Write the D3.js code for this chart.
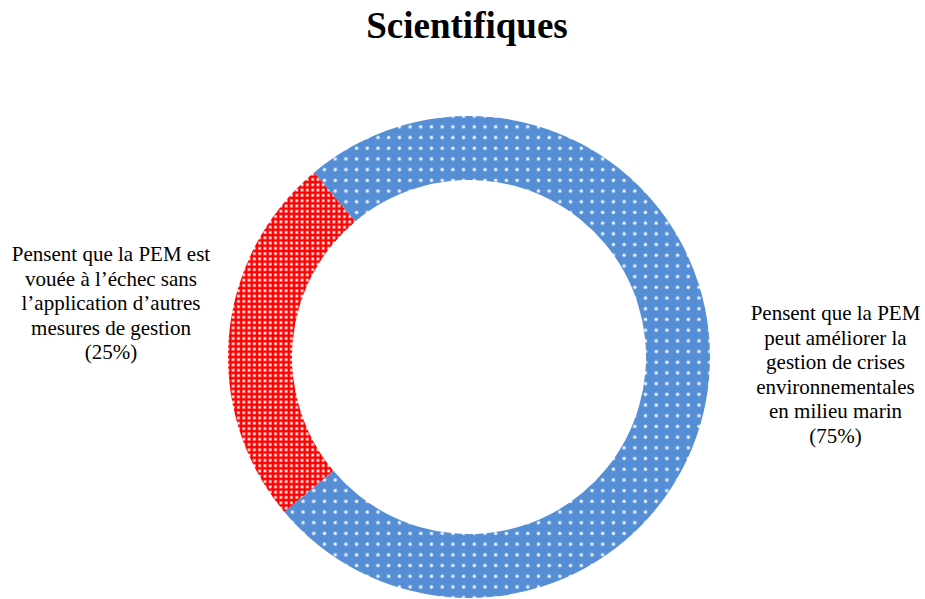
<!DOCTYPE html>
<html>
<head>
<meta charset="utf-8">
<script src="https://cdn.jsdelivr.net/npm/d3@7"></script>
<style>
  html, body { margin: 0; padding: 0; background: #ffffff; }
  svg { display: block; }
</style>
</head>
<body>
<svg id="chart" width="925" height="599"></svg>
<script>
// Survey shares (percent)
const categories = ["ameliorer", "echec"];
const values = [75, 25];
const labelLines = [
  ["Pensent que la PEM", "peut améliorer la", "gestion de crises", "environnementales", "en milieu marin", "(75%)"],
  ["Pensent que la PEM est", "vouée à l’échec sans", "l’application d’autres", "mesures de gestion", "(25%)"]
];
const colors = ["#558ED5", "#FF0000"];
const title = "Scientifiques";

const svg = d3.select("#chart");
const cx = 469, cy = 357, outerR = 241, innerR = 177;

// Dotted fill patterns
const defs = svg.append("defs");
const blueP = defs.append("pattern")
  .attr("id", "pat-0").attr("patternUnits", "userSpaceOnUse")
  .attr("width", 10.7).attr("height", 10.7);
blueP.append("rect").attr("width", 10.7).attr("height", 10.7).attr("fill", colors[0]);
blueP.append("circle").attr("cx", 5.3).attr("cy", 5.3).attr("r", 2.1).attr("fill", "#ffffff").attr("opacity", 0.35);
blueP.append("circle").attr("cx", 5.3).attr("cy", 5.3).attr("r", 1.3).attr("fill", "#ffffff").attr("opacity", 0.95);

const redP = defs.append("pattern")
  .attr("id", "pat-1").attr("patternUnits", "userSpaceOnUse")
  .attr("width", 5.3).attr("height", 5.3);
redP.append("rect").attr("width", 5.3).attr("height", 5.3).attr("fill", colors[1]);
redP.append("rect").attr("x", 1.1).attr("y", 1.1).attr("width", 3.1).attr("height", 3.1).attr("fill", "#ff9a9a");
redP.append("rect").attr("x", 1.8).attr("y", 1.8).attr("width", 1.7).attr("height", 1.7).attr("fill", "#ffffff");

const pie = d3.pie()
  .sort(null)
  .startAngle(-40 * Math.PI / 180)
  .endAngle(320 * Math.PI / 180);
const arc = d3.arc().innerRadius(innerR).outerRadius(outerR);

const g = svg.append("g").attr("transform", `translate(${cx},${cy})`);
g.selectAll("path")
  .data(pie(values))
  .join("path")
  .attr("d", arc)
  .attr("fill", (d, i) => `url(#pat-${i})`);

// Title
svg.append("text")
  .attr("x", 467).attr("y", 38)
  .attr("text-anchor", "middle")
  .attr("font-family", "'Liberation Serif', 'Times New Roman', serif")
  .attr("font-weight", "bold")
  .attr("font-size", 37)
  .attr("fill", "#000")
  .text(title);

// Category labels
const labelPos = [
  { x: 835.5, y: 320 },
  { x: 111, y: 261 }
];
labelLines.forEach((lines, i) => {
  const t = svg.append("text")
    .attr("text-anchor", "middle")
    .attr("font-family", "'Liberation Serif', 'Times New Roman', serif")
    .attr("font-size", 21)
    .attr("fill", "#000");
  lines.forEach((ln, j) => {
    t.append("tspan")
      .attr("x", labelPos[i].x)
      .attr("y", labelPos[i].y + j * 24.5)
      .text(ln);
  });
});
</script>
</body>
</html>
